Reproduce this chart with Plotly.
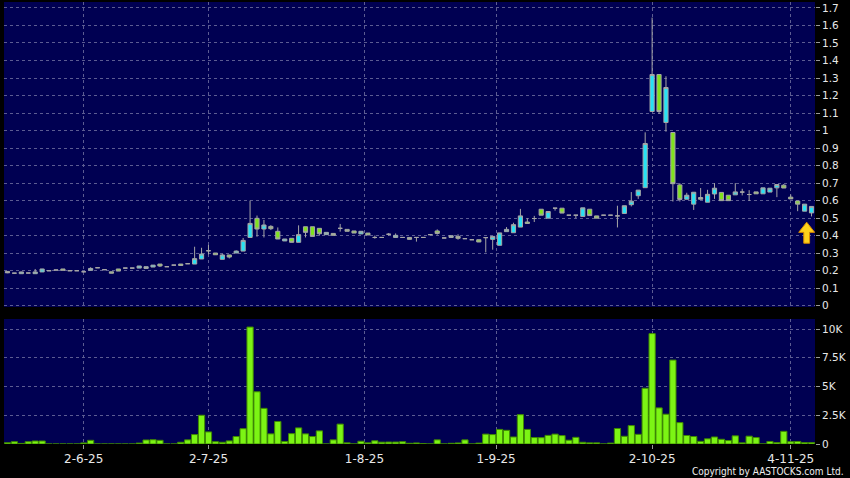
import plotly.graph_objects as go

# ---------------- data ----------------
open_ = [0.196,0.186,0.183,0.187,0.183,0.193,0.200,0.204,0.210,0.200,
         0.200,0.194,0.202,0.217,0.206,0.194,0.210,0.215,0.215,0.215,
         0.213,0.221,0.238,0.223,0.232,0.238,0.240,0.238,0.267,0.314,
         0.301,0.265,0.290,0.301,0.312,0.390,0.499,0.438,0.453,0.425,
         0.370,0.385,0.362,0.451,0.451,0.442,0.406,0.413,0.442,0.436,
         0.427,0.410,0.415,0.390,0.390,0.408,0.390,0.390,0.390,0.390,
         0.390,0.406,0.427,0.387,0.390,0.396,0.383,0.377,0.377,0.389,
         0.379,0.345,0.423,0.417,0.449,0.478,0.498,0.551,0.500,0.557,
         0.557,0.517,0.517,0.510,0.551,0.513,0.517,0.517,0.513,0.527,
         0.577,0.628,0.674,1.109,1.320,1.046,0.989,0.690,0.608,0.580,
         0.618,0.591,0.638,0.647,0.631,0.633,0.649,0.635,0.650,0.639,
         0.649,0.673,0.688,0.620,0.598,0.540,0.530]
high = [0.197,0.187,0.194,0.187,0.210,0.211,0.200,0.204,0.210,0.200,
        0.200,0.194,0.220,0.217,0.206,0.194,0.210,0.215,0.215,0.227,
        0.223,0.232,0.238,0.223,0.232,0.238,0.240,0.337,0.331,0.347,
        0.301,0.297,0.290,0.316,0.387,0.600,0.515,0.490,0.460,0.447,
        0.381,0.385,0.459,0.451,0.451,0.442,0.419,0.413,0.467,0.436,
        0.427,0.425,0.415,0.401,0.390,0.415,0.413,0.390,0.390,0.390,
        0.390,0.406,0.436,0.387,0.400,0.408,0.383,0.377,0.377,0.389,
        0.396,0.416,0.449,0.474,0.553,0.500,0.513,0.551,0.538,0.557,
        0.557,0.517,0.517,0.559,0.551,0.513,0.517,0.517,0.571,0.571,
        0.649,0.660,0.990,1.645,1.320,1.310,0.989,0.700,0.645,0.648,
        0.672,0.662,0.700,0.647,0.631,0.700,0.668,0.660,0.650,0.673,
        0.671,0.692,0.695,0.635,0.598,0.580,0.567]
low = [0.186,0.183,0.182,0.187,0.182,0.193,0.200,0.204,0.203,0.200,
       0.200,0.194,0.202,0.217,0.206,0.186,0.198,0.215,0.215,0.215,
       0.213,0.221,0.221,0.223,0.232,0.230,0.240,0.238,0.267,0.293,
       0.291,0.265,0.270,0.301,0.312,0.390,0.394,0.390,0.432,0.381,
       0.370,0.362,0.362,0.390,0.396,0.400,0.406,0.402,0.423,0.425,
       0.415,0.410,0.404,0.383,0.390,0.400,0.390,0.390,0.379,0.366,
       0.390,0.406,0.406,0.387,0.390,0.377,0.383,0.377,0.364,0.305,
       0.320,0.345,0.423,0.417,0.449,0.470,0.478,0.517,0.500,0.543,
       0.529,0.517,0.500,0.510,0.515,0.500,0.517,0.517,0.447,0.527,
       0.567,0.610,0.674,1.109,1.095,0.994,0.595,0.595,0.608,0.547,
       0.608,0.591,0.610,0.600,0.600,0.633,0.630,0.598,0.639,0.639,
       0.649,0.620,0.672,0.610,0.540,0.540,0.510]
close = [0.188,0.186,0.193,0.187,0.193,0.210,0.200,0.204,0.203,0.200,
         0.200,0.194,0.213,0.217,0.206,0.186,0.198,0.215,0.215,0.227,
         0.223,0.232,0.227,0.223,0.232,0.230,0.240,0.269,0.295,0.314,
         0.291,0.290,0.278,0.312,0.373,0.470,0.438,0.461,0.440,0.381,
         0.381,0.362,0.406,0.419,0.396,0.411,0.419,0.402,0.442,0.425,
         0.415,0.425,0.404,0.390,0.390,0.408,0.402,0.390,0.379,0.390,
         0.390,0.406,0.413,0.387,0.400,0.385,0.383,0.377,0.364,0.389,
         0.396,0.416,0.436,0.463,0.513,0.470,0.498,0.517,0.538,0.557,
         0.529,0.517,0.517,0.559,0.515,0.500,0.517,0.517,0.513,0.571,
         0.597,0.660,0.926,1.320,1.109,1.246,0.697,0.607,0.631,0.648,
         0.608,0.636,0.671,0.600,0.600,0.650,0.649,0.635,0.639,0.673,
         0.671,0.692,0.672,0.610,0.580,0.580,0.567]
volume_k = [0.11,0.20,0.05,0.20,0.26,0.26,0,0,0,0,
            0,0.09,0.32,0,0,0,0,0,0,0.08,
            0.35,0.37,0.32,0,0,0.15,0.36,0.82,2.50,1.05,
            0.20,0.15,0.27,0.65,1.33,10.17,4.54,3.10,0.88,1.96,
            0.22,0.90,1.40,0.88,0.65,1.14,0,0.36,1.73,0.10,
            0,0.24,0.10,0.28,0.16,0.17,0.17,0.20,0.06,0.09,
            0.03,0,0.36,0,0.06,0.09,0.36,0,0.08,0.86,
            0.82,1.27,1.19,0.61,2.55,1.27,0.56,0.55,0.75,0.86,
            0.73,0.33,0.58,0.15,0.10,0.10,0,0.08,1.35,0.67,
            1.60,0.84,4.85,9.60,3.14,2.59,7.30,1.86,0.74,0.65,
            0.23,0.45,0.61,0.41,0.30,0.71,0.10,0.68,0.56,0,
            0.22,0.12,1.10,0.20,0.22,0.12,0.12]

date_tick_pos = [11, 29, 51.5, 70.5, 93, 113]
date_tick_text = ["2-6-25", "2-7-25", "1-8-25", "1-9-25", "2-10-25", "4-11-25"]
price_ticks = [0, 0.1, 0.2, 0.3, 0.4, 0.5, 0.6, 0.7, 0.8, 0.9,
               1, 1.1, 1.2, 1.3, 1.4, 1.5, 1.6, 1.7]
price_tick_text = ["0", "0.1", "0.2", "0.3", "0.4", "0.5", "0.6", "0.7", "0.8", "0.9",
                   "1", "1.1", "1.2", "1.3", "1.4", "1.5", "1.6", "1.7"]
vol_ticks = [0, 2.5, 5, 7.5, 10]
vol_tick_text = ["0", "2.5K", "5K", "7.5K", "10K"]

# ---------------- styling ----------------
NAVY = "#000052"
GRID = "#5c5c92"
CYAN = "#26e2f4"
GREEN = "#80e21e"
WICK = "#a6a6a6"
FONT = "DejaVu Sans"

n = len(close)
idx = list(range(n))

def subset(cond):
    sel = [i for i in idx if cond(open_[i], close[i])]
    return dict(x=sel,
                open=[open_[i] for i in sel], high=[high[i] for i in sel],
                low=[low[i] for i in sel], close=[close[i] for i in sel])

fig = go.Figure()

for cond, fill in [(lambda o, c: c > o, CYAN),
                   (lambda o, c: c < o, GREEN),
                   (lambda o, c: c == o, WICK)]:
    d = subset(cond)
    fig.add_trace(go.Candlestick(
        **d, xaxis="x", yaxis="y",
        increasing=dict(line=dict(color=WICK, width=1), fillcolor=fill),
        decreasing=dict(line=dict(color=WICK, width=1), fillcolor=fill),
        whiskerwidth=0, hoverinfo="skip", showlegend=False))

fig.add_trace(go.Bar(
    x=idx, y=volume_k, xaxis="x2", yaxis="y2",
    marker=dict(color="#7cf414", line=dict(color="#3f8a00", width=1)),
    hoverinfo="skip", showlegend=False))

# yellow arrow marker under the latest bar
ax = n - 1 - 0.7
tip = low[-1] - 0.033
arrow = (f"M {ax} {tip} L {ax+1.15} {tip-0.058} L {ax+0.42} {tip-0.058} "
         f"L {ax+0.42} {tip-0.12} L {ax-0.42} {tip-0.12} L {ax-0.42} {tip-0.058} "
         f"L {ax-1.15} {tip-0.058} Z")
fig.add_shape(type="path", path=arrow, xref="x", yref="y",
              fillcolor="#ffd21a", line=dict(color="#d88a00", width=1))

xcommon = dict(range=[-0.5, n - 0.5], tickvals=date_tick_pos, ticktext=date_tick_text,
               showgrid=True, gridcolor=GRID, griddash="3px,3px", gridwidth=1,
               zeroline=False, showline=False, rangeslider=dict(visible=False),
               tickfont=dict(family=FONT, size=12, color="#e8e8e8"))
ycommon = dict(side="right", showgrid=True, gridcolor=GRID, griddash="3px,3px",
               gridwidth=1, zeroline=False, showline=False,
               ticks="outside", ticklen=4, tickcolor="#9a9a9a", tickwidth=1,
               tickfont=dict(family=FONT, size=10.5, color="#e8e8e8"))

fig.update_layout(
    width=850, height=478,
    paper_bgcolor="#000000", plot_bgcolor=NAVY,
    margin=dict(l=4, r=35, t=2, b=34),
    showlegend=False, boxgap=0.14, bargap=0.1,
    xaxis=dict(**xcommon, anchor="y", showticklabels=False, ticks=""),
    xaxis2=dict(**xcommon, anchor="y2", matches="x", ticks="outside",
                ticklen=4, tickcolor="#9a9a9a"),
    yaxis=dict(**ycommon, domain=[0.31, 1], range=[-0.007, 1.734],
               tickvals=price_ticks, ticktext=price_tick_text),
    yaxis2=dict(**ycommon, domain=[0, 0.2828], range=[0, 10.87],
                tickvals=vol_ticks, ticktext=vol_tick_text),
    annotations=[dict(text="Copyright by AASTOCKS.com Ltd.", xref="paper", yref="paper",
                      x=1.0382, y=-0.062, xanchor="right", yanchor="middle",
                      showarrow=False,
                      font=dict(family="DejaVu Sans Condensed, Liberation Sans Narrow, Liberation Sans",
                                size=10, color="#f0f0f0"))],
)

fig.write_html("out.html", config={"displayModeBar": False},
               post_script="document.body.style.margin='0';"
                           "document.body.style.background='#000';")
